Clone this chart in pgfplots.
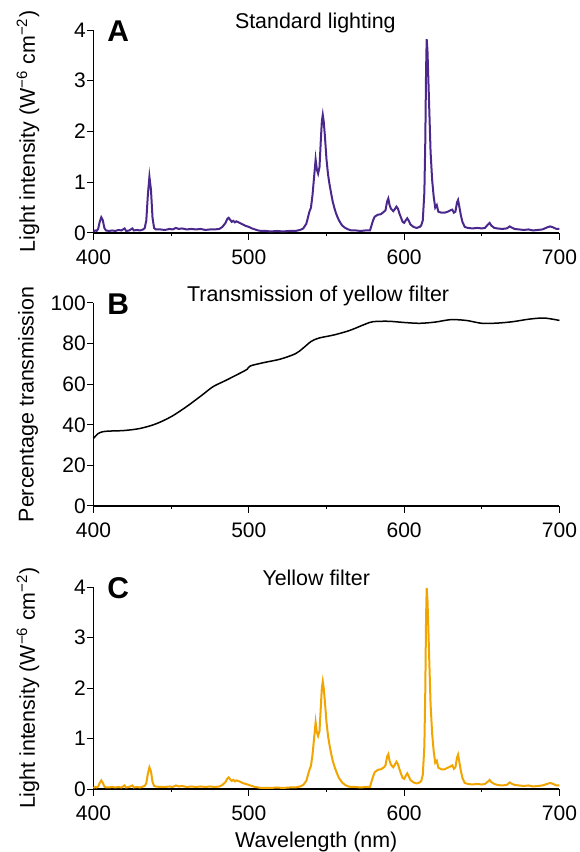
\documentclass[border=0pt]{standalone}
\usepackage{fontspec}
\setmainfont{Liberation Sans}
\usepackage{pgfplots}
\pgfplotsset{compat=1.18}

\definecolor{specpurple}{RGB}{74,40,140}
\definecolor{specorange}{RGB}{242,164,0}

\pgfplotsset{
  panel/.style={
    scale only axis,
    width=233pt,
    xmin=400, xmax=700,
    ymin=0,
    axis lines*=left,
    axis line style={line width=0.6pt},
    tick align=outside,
    major tick length=3.3pt,
    minor tick length=1.6pt,
    tick style={black, line width=0.5pt},
    xtick={400,500,600,700},
    minor xtick={450,550,650},
    font=\fontsize{10.5}{12}\selectfont,
    /pgf/number format/assume math mode=true,
    yticklabel style={inner xsep=0.4pt},
    xticklabel style={yshift=-1.4pt},
    label style={font=\fontsize{10.7}{12}\selectfont},
    ylabel style={at={(axis description cs:-0.1406,0.5)}, anchor=center, rotate=0},
    clip=false,
  },
}

\begin{document}
\begin{tikzpicture}
\useasboundingbox (0,0) rectangle (289.5pt,426pt);

% ---------------- A: standard lighting
\begin{axis}[panel,
  at={(46.75pt,309.5pt)}, anchor=south west,
  height=101.5pt, ymax=4, ytick={0,1,2,3,4},
  ylabel={Light intensity (W\textsuperscript{−6} cm\textsuperscript{−2})},
]
\addplot[specpurple, line width=1pt] coordinates {
(400,0.03) (401,0.05) (402,0.04) (403,0.08) (404,0.22) (405,0.31) (406,0.25) (407,0.10)
(408,0.05) (410,0.04) (412,0.05) (414,0.04) (416,0.06) (418,0.05) (420,0.09) (421,0.04)
(423,0.05) (425,0.09) (426,0.05) (428,0.06) (430,0.05) (432,0.07) (433,0.10) (434,0.25)
(435,0.75) (436,1.11) (437,0.85) (438,0.30) (439,0.10) (440,0.07) (443,0.07) (446,0.06)
(449,0.08) (451,0.07) (453,0.10) (455,0.08) (457,0.09) (460,0.07) (463,0.08) (466,0.07)
(469,0.08) (472,0.06) (475,0.07) (478,0.07) (481,0.08) (483,0.12) (485,0.20) (486,0.27)
(487,0.30) (488,0.26) (489,0.22) (490,0.24) (491,0.21) (492,0.23) (494,0.20) (496,0.17)
(498,0.14) (500,0.12) (502,0.09) (504,0.07) (506,0.05) (508,0.04) (511,0.04) (514,0.03)
(518,0.04) (522,0.03) (526,0.04) (530,0.04) (533,0.06) (535,0.09) (537,0.18) (538,0.30)
(539,0.42) (540,0.50) (541,0.75) (542,1.10) (543,1.45) (543.8,1.25) (544.6,1.17) (545.5,1.30)
(546.3,1.80) (547,2.20) (547.6,2.33) (548.2,2.20) (549,1.90) (550,1.45) (551,1.15) (552,0.95)
(553,0.78) (554,0.62) (555,0.50) (556,0.40) (557,0.32) (558,0.25) (560,0.15) (562,0.10)
(564,0.07) (566,0.05) (569,0.05) (572,0.04) (575,0.05) (578,0.05) (579,0.15) (580,0.25)
(581,0.32) (583,0.36) (585,0.37) (587,0.42) (588,0.45) (589,0.62) (589.8,0.68) (590.6,0.55)
(591.5,0.48) (593,0.43) (594,0.47) (595,0.52) (596,0.48) (597,0.38) (598,0.30) (599,0.22)
(600,0.20) (601,0.25) (602,0.29) (603,0.24) (604,0.17) (606,0.12) (608,0.10) (610,0.12)
(611,0.15) (612,0.25) (613,0.80) (613.6,1.80) (614.1,3.20) (614.5,3.82) (615,3.60) (615.6,3.00)
(616.3,2.30) (617,1.60) (618,1.05) (619,0.72) (620,0.50) (621,0.55) (622,0.42) (624,0.40)
(626,0.40) (628,0.42) (630,0.45) (631,0.46) (632,0.40) (633,0.42) (634,0.60) (634.7,0.65)
(635.5,0.52) (636.5,0.35) (637.5,0.22) (639,0.12) (641,0.10) (644,0.09) (647,0.10) (650,0.09)
(652,0.10) (654,0.17) (655,0.20) (656,0.15) (658,0.10) (660,0.09) (663,0.08) (666,0.09)
(668,0.13) (669,0.11) (671,0.08) (674,0.07) (677,0.06) (680,0.07) (683,0.05) (686,0.06)
(689,0.07) (692,0.11) (694,0.13) (696,0.11) (698,0.08) (700,0.08)
};
\node[anchor=base, font=\fontsize{10.7}{12}\selectfont] at (rel axis cs:0.476,1.005) {Standard lighting};
\node[anchor=base west, inner sep=0pt, font=\fontsize{15}{16}\bfseries] at (rel axis cs:0.029,0.941) {A};
\end{axis}

% ---------------- B: transmission of yellow filter
\begin{axis}[panel,
  at={(46.75pt,173pt)}, anchor=south west,
  height=101.5pt, ymax=100, ytick={0,20,40,60,80,100},
  ylabel={Percentage transmission},
]
\addplot[black, line width=0.75pt, smooth] coordinates {
(400,33.3) (403,35.7) (406,36.6) (410,36.9) (420,37.2) (430,38.2) (440,40.4) (450,44.0)
(460,49.0) (470,54.7) (477,58.8) (485,61.8) (495,65.7) (499,67.4) (501,69.0) (510,70.7)
(520,72.3) (530,75.0) (535,77.8) (540,81.0) (545,82.7) (555,84.3) (565,86.5) (575,89.6)
(580,90.8) (590,91.0) (600,90.4) (610,90.0) (620,90.6) (630,91.8) (640,91.4) (650,90.0)
(660,90.1) (670,90.8) (680,92.0) (690,92.6) (700,91.4)
};
\node[anchor=base, font=\fontsize{10.7}{12}\selectfont] at (rel axis cs:0.482,1.005) {Transmission of yellow filter};
\node[anchor=base west, inner sep=0pt, font=\fontsize{15}{16}\bfseries] at (rel axis cs:0.029,0.941) {B};
\end{axis}

% ---------------- C: yellow filter
\begin{axis}[panel,
  at={(46.75pt,31.5pt)}, anchor=south west,
  height=101pt, ymax=4, ytick={0,1,2,3,4},
  ylabel={Light intensity (W\textsuperscript{−6} cm\textsuperscript{−2})},
  xlabel={Wavelength (nm)},
  xlabel style={at={(axis description cs:0.478,-0.292)}, anchor=base},
]
\addplot[specorange, line width=1pt] coordinates {
(400,0.02) (401,0.04) (402,0.03) (403,0.05) (404,0.12) (405,0.17) (406,0.12) (407,0.05)
(408,0.03) (410,0.03) (412,0.04) (414,0.03) (416,0.04) (418,0.03) (420,0.07) (421,0.03)
(423,0.04) (425,0.07) (426,0.03) (428,0.04) (430,0.03) (432,0.05) (433,0.06) (434,0.12)
(435,0.30) (436,0.43) (437,0.35) (438,0.14) (439,0.06) (440,0.05) (443,0.04) (446,0.04)
(449,0.05) (451,0.04) (453,0.07) (455,0.05) (457,0.06) (460,0.04) (463,0.05) (466,0.04)
(469,0.05) (472,0.04) (475,0.05) (478,0.04) (481,0.05) (483,0.08) (485,0.14) (486,0.20)
(487,0.23) (488,0.19) (489,0.16) (490,0.18) (491,0.15) (492,0.17) (494,0.15) (496,0.12)
(498,0.10) (500,0.08) (502,0.06) (504,0.04) (506,0.03) (508,0.02) (511,0.02) (514,0.02)
(518,0.03) (522,0.02) (526,0.03) (530,0.03) (533,0.05) (535,0.08) (537,0.16) (538,0.27)
(539,0.38) (540,0.46) (541,0.68) (542,1.00) (543,1.32) (543.8,1.12) (544.6,1.05) (545.5,1.15)
(546.3,1.60) (547,2.00) (547.6,2.13) (548.2,2.00) (549,1.72) (550,1.32) (551,1.05) (552,0.86)
(553,0.70) (554,0.56) (555,0.46) (556,0.37) (557,0.29) (558,0.22) (560,0.13) (562,0.08)
(564,0.05) (566,0.04) (569,0.04) (572,0.03) (575,0.04) (578,0.04) (579,0.15) (580,0.25)
(581,0.33) (583,0.38) (585,0.39) (587,0.43) (588,0.47) (589,0.64) (589.8,0.69) (590.6,0.56)
(591.5,0.48) (593,0.43) (594,0.48) (595,0.54) (596,0.49) (597,0.39) (598,0.30) (599,0.22)
(600,0.20) (601,0.26) (602,0.31) (603,0.25) (604,0.18) (606,0.13) (608,0.11) (610,0.13)
(611,0.16) (612,0.28) (613,0.85) (613.6,1.95) (614.1,3.40) (614.5,3.98) (615,3.75) (615.6,3.15)
(616.3,2.40) (617,1.68) (618,1.10) (619,0.75) (620,0.52) (621,0.56) (622,0.42) (624,0.39)
(626,0.39) (628,0.42) (630,0.45) (631,0.47) (632,0.40) (633,0.43) (634,0.62) (634.7,0.68)
(635.5,0.54) (636.5,0.36) (637.5,0.22) (639,0.12) (641,0.10) (644,0.09) (647,0.10) (650,0.09)
(652,0.10) (654,0.15) (655,0.18) (656,0.14) (658,0.10) (660,0.08) (663,0.07) (666,0.08)
(668,0.13) (669,0.11) (671,0.08) (674,0.07) (677,0.06) (680,0.07) (683,0.05) (686,0.06)
(689,0.07) (692,0.10) (694,0.12) (696,0.10) (698,0.07) (700,0.07)
};
\node[anchor=base, font=\fontsize{10.7}{12}\selectfont] at (rel axis cs:0.478,1.005) {Yellow filter};
\node[anchor=base west, inner sep=0pt, font=\fontsize{15}{16}\bfseries] at (rel axis cs:0.029,0.945) {C};
\end{axis}
\end{tikzpicture}
\end{document}
